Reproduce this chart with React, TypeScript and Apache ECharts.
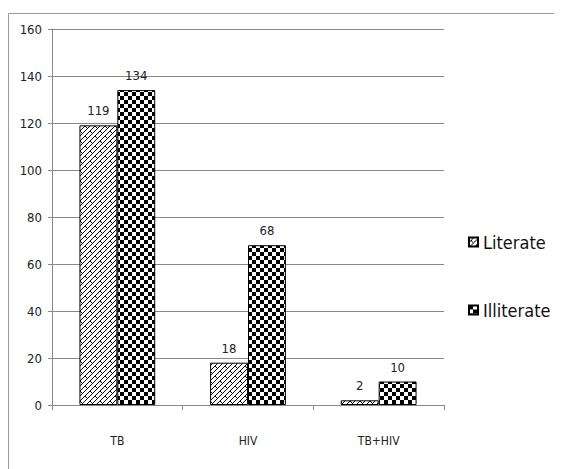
import React, { useEffect, useRef } from "react";
import * as echarts from "echarts";

const categories = ["TB", "HIV", "TB+HIV"];
const literate = [119, 18, 2];
const illiterate = [134, 68, 10];
const seriesNames = ["Literate", "Illiterate"];

function checkerTile(): HTMLCanvasElement {
  const c = document.createElement("canvas");
  c.width = 8;
  c.height = 8;
  const ctx = c.getContext("2d")!;
  ctx.fillStyle = "#fff";
  ctx.fillRect(0, 0, 8, 8);
  ctx.fillStyle = "#000";
  ctx.fillRect(0, 0, 4, 4);
  ctx.fillRect(4, 4, 4, 4);
  return c;
}

function brickTile(): HTMLCanvasElement {
  const c = document.createElement("canvas");
  c.width = 10;
  c.height = 10;
  const ctx = c.getContext("2d")!;
  ctx.fillStyle = "#fff";
  ctx.fillRect(0, 0, 10, 10);
  ctx.strokeStyle = "#000";
  ctx.lineWidth = 1;
  ctx.beginPath();
  ctx.moveTo(-1, 11);
  ctx.lineTo(11, -1);
  ctx.moveTo(-6, 11);
  ctx.lineTo(6, -1);
  ctx.moveTo(4, 11);
  ctx.lineTo(16, -1);
  ctx.stroke();
  ctx.beginPath();
  ctx.moveTo(2, 3);
  ctx.lineTo(5, 6);
  ctx.moveTo(7, 8);
  ctx.lineTo(10, 11);
  ctx.moveTo(-3, -2);
  ctx.lineTo(0, 1);
  ctx.stroke();
  return c;
}

export default function App() {
  const ref = useRef<HTMLDivElement>(null);
  useEffect(() => {
    if (!ref.current) return;
    const chart = echarts.init(ref.current, undefined, { renderer: "svg" });
    const font = "'DejaVu Sans Condensed', 'Liberation Sans Narrow', 'Liberation Sans', sans-serif";
    chart.setOption({
      animation: false,
      backgroundColor: "#fff",
      textStyle: { fontFamily: font },
      graphic: [
        {
          type: "rect",
          shape: { x: 0.5, y: 5.5, width: 600, height: 470 },
          style: { fill: "none", stroke: "#9a9a9a", lineWidth: 1 },
          silent: true,
        },
      ],
      grid: { left: 44, top: 21, right: 118, bottom: 64 },
      legend: {
        orient: "vertical",
        left: 455,
        top: 220,
        itemWidth: 9,
        itemHeight: 9,
        itemGap: 50,
        icon: "rect",
        textStyle: { fontSize: 18, color: "#111", fontFamily: font },
        data: seriesNames,
      },
      xAxis: {
        type: "category",
        data: categories,
        axisLine: { lineStyle: { color: "#888" } },
        axisTick: { show: true, length: 5, lineStyle: { color: "#888" } },
        axisLabel: { color: "#222", fontSize: 12, margin: 30, fontFamily: font },
      },
      yAxis: {
        type: "value",
        min: 0,
        max: 160,
        interval: 20,
        axisLine: { show: true, lineStyle: { color: "#888" } },
        axisTick: { show: true, length: 4, lineStyle: { color: "#888" } },
        axisLabel: { color: "#222", fontSize: 13, margin: 10, fontFamily: font },
        splitLine: { lineStyle: { color: "#888" } },
      },
      series: [
        {
          name: seriesNames[0],
          type: "bar",
          data: literate,
          barGap: "0%",
          barCategoryGap: "42%",
          itemStyle: {
            color: { image: brickTile(), repeat: "repeat" },
            borderColor: "#000",
            borderWidth: 1,
          },
          label: { show: true, position: "top", distance: 8, color: "#222", fontSize: 13, fontFamily: font },
        },
        {
          name: seriesNames[1],
          type: "bar",
          data: illiterate,
          barGap: "0%",
          barCategoryGap: "42%",
          itemStyle: {
            color: { image: checkerTile(), repeat: "repeat" },
            borderColor: "#000",
            borderWidth: 1,
          },
          label: { show: true, position: "top", distance: 8, color: "#222", fontSize: 13, fontFamily: font },
        },
      ],
    });
    return () => chart.dispose();
  }, []);
  return <div ref={ref} style={{ width: 554, height: 461 }} />;
}
